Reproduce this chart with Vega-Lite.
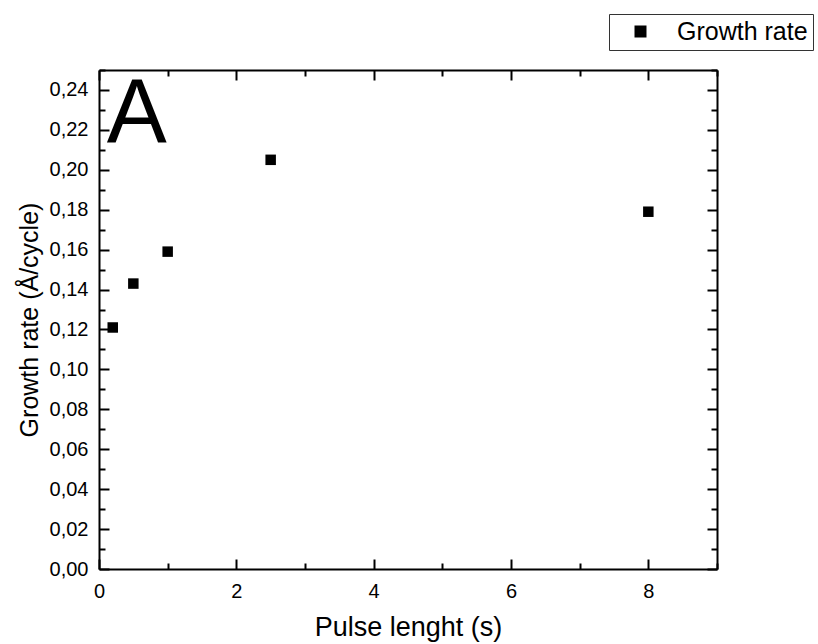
{
  "$schema": "https://vega.github.io/schema/vega-lite/v6.json",
  "width": 618,
  "height": 499,
  "autosize": "none",
  "padding": {"left": 99, "top": 70, "right": 101, "bottom": 75},
  "background": "white",
  "config": {
    "font": "Liberation Sans",
    "view": {"stroke": null},
    "axis": {"domainColor": "black", "domainWidth": 2, "tickColor": "black", "tickWidth": 2, "grid": false, "labelColor": "black", "titleColor": "black", "titleFontWeight": "normal"}
  },
  "data": {"values": [
    {"pulse": 0.2, "rate": 0.121, "series": "Growth rate"},
    {"pulse": 0.5, "rate": 0.143, "series": "Growth rate"},
    {"pulse": 1.0, "rate": 0.159, "series": "Growth rate"},
    {"pulse": 2.5, "rate": 0.205, "series": "Growth rate"},
    {"pulse": 8.0, "rate": 0.179, "series": "Growth rate"}
  ]},
  "layer": [
    {
      "mark": {"type": "point", "shape": "square", "filled": true, "size": 110, "opacity": 1},
      "encoding": {
        "x": {"field": "pulse", "type": "quantitative", "scale": {"domain": [0, 9], "nice": false},
          "axis": {"title": "Pulse lenght (s)", "titlePadding": 9, "titleFontSize": 27, "labelFontSize": 20, "values": [0,1,2,3,4,5,6,7,8,9],
            "labelExpr": "datum.value % 2 == 0 ? datum.label : ''",
            "tickSize": {"condition": {"test": "datum.value % 2 == 0", "value": -10}, "value": -6},
            "labelPadding": 22, "labelFlush": false, "labelOverlap": false}},
        "y": {"field": "rate", "type": "quantitative", "scale": {"domain": [0, 0.25], "nice": false, "zero": true},
          "axis": {"title": "Growth rate (Å/cycle)", "titlePadding": 7, "titleFontSize": 25, "labelFontSize": 20,
            "values": [0,0.01,0.02,0.03,0.04,0.05,0.06,0.07,0.08,0.09,0.10,0.11,0.12,0.13,0.14,0.15,0.16,0.17,0.18,0.19,0.20,0.21,0.22,0.23,0.24,0.25],
            "labelExpr": "round(datum.value*100) % 2 == 0 ? replace(format(datum.value, '.2f'), '.', ',') : ''",
            "tickSize": {"condition": {"test": "round(datum.value*100) % 2 == 0", "value": -10}, "value": -6},
            "labelPadding": 21, "labelOverlap": false, "labelFlush": false}},
        "color": {"field": "series", "type": "nominal", "scale": {"range": ["black"]},
          "legend": {"title": null, "orient": "none", "legendX": 510, "legendY": -56, "strokeColor": "#333", "padding": 5,
            "symbolType": "square", "symbolSize": 110, "symbolFillColor": "black", "symbolStrokeColor": "black",
            "labelFontSize": 25, "labelColor": "black", "symbolOffset": 14, "labelOffset": 24, "labelLimit": 300, "fillColor": "white"}}
      }
    },
    {
      "mark": {"type": "text", "fontSize": 90, "align": "center", "baseline": "alphabetic", "color": "black"},
      "data": {"values": [{"px": 0.55, "py": 0.2137, "label": "A"}]},
      "encoding": {
        "x": {"field": "px", "type": "quantitative", "scale": {"domain": [0, 9], "nice": false},
          "axis": {"orient": "top", "title": null, "labels": false, "values": [0,1,2,3,4,5,6,7,8,9],
            "tickSize": {"condition": {"test": "datum.value % 2 == 0", "value": -10}, "value": -6}}},
        "y": {"field": "py", "type": "quantitative", "scale": {"domain": [0, 0.25], "nice": false},
          "axis": {"orient": "right", "title": null, "labels": false,
            "values": [0,0.01,0.02,0.03,0.04,0.05,0.06,0.07,0.08,0.09,0.10,0.11,0.12,0.13,0.14,0.15,0.16,0.17,0.18,0.19,0.20,0.21,0.22,0.23,0.24,0.25],
            "tickSize": {"condition": {"test": "round(datum.value*100) % 2 == 0", "value": -10}, "value": -6}}},
        "text": {"field": "label"}
      }
    }
  ],
  "resolve": {"axis": {"x": "independent", "y": "independent"}}
}
